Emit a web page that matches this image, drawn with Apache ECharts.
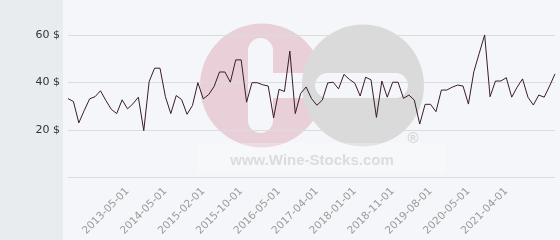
<!DOCTYPE html>
<html>
<head>
<meta charset="utf-8">
<script src="https://cdn.jsdelivr.net/npm/echarts@6/dist/echarts.min.js"></script>
<style>
html,body{margin:0;padding:0;background:#f5f6f9;}
#chart{width:560px;height:240px;}
</style>
</head>
<body>
<div id="chart"></div>
<script>
const dates = [
"2012-05-01","2012-06-01","2012-07-01","2012-08-01","2012-10-01","2012-11-01","2012-12-01","2013-01-01","2013-02-01","2013-03-01",
"2013-04-01","2013-05-01","2013-06-01","2013-08-01","2013-10-01","2013-12-01","2014-02-01","2014-03-01","2014-05-01","2014-06-01",
"2014-07-01","2014-09-01","2014-10-01","2014-11-01","2014-12-01","2015-02-01","2015-03-01","2015-04-01","2015-05-01","2015-06-01",
"2015-07-01","2015-09-01","2015-10-01","2015-11-01","2015-12-01","2016-01-01","2016-02-01","2016-03-01","2016-04-01","2016-05-01",
"2016-06-01","2016-08-01","2016-10-01","2016-12-01","2017-01-01","2017-03-01","2017-04-01","2017-05-01","2017-06-01","2017-07-01",
"2017-09-01","2017-11-01","2017-12-01","2018-01-01","2018-02-01","2018-04-01","2018-05-01","2018-07-01","2018-09-01","2018-10-01",
"2018-11-01","2018-12-01","2019-01-01","2019-03-01","2019-04-01","2019-06-01","2019-07-01","2019-08-01","2019-09-01","2019-10-01",
"2019-12-01","2020-01-01","2020-03-01","2020-04-01","2020-05-01","2020-06-01","2020-07-01","2020-09-01","2020-11-01","2021-01-01",
"2021-03-01","2021-04-01","2021-05-01","2021-06-01","2021-07-01","2021-09-01","2021-10-01","2021-11-01","2021-12-01","2022-01-01",
"2022-02-01"
];
const prices = [
33.2,32.0,23.0,28.2,33.1,34.0,36.5,32.4,28.7,26.9,
32.7,28.9,31.0,33.8,19.7,40.4,46.0,46.0,34.0,26.9,
34.5,32.8,26.6,30.3,39.9,33.1,34.9,38.3,44.4,44.4,
40.1,49.5,49.5,31.7,39.9,39.9,39.0,38.5,25.1,37.1,
36.2,53.2,26.9,35.4,38.1,33.2,30.4,32.6,39.8,40.1,
37.3,43.4,41.3,39.7,34.3,42.2,41.1,25.3,40.6,33.8,
40.1,40.1,33.3,34.7,32.6,22.5,30.8,30.8,27.7,36.8,
36.8,38.0,38.9,38.5,30.9,44.5,52.3,60.0,34.0,40.6,
40.6,42.0,33.8,38.0,41.5,33.8,30.5,34.7,33.8,38.5,
43.6
];
const shownLabels = ["2013-05-01","2014-05-01","2015-02-01","2015-10-01","2016-05-01","2017-04-01","2018-01-01","2018-11-01","2019-08-01","2020-05-01","2021-04-01"];
const yTicks = [20, 40, 60];

const chart = echarts.init(document.getElementById('chart'), null, {renderer:'canvas'});
const bg = '#f5f6f9';
chart.setOption({
  animation: false,
  backgroundColor: bg,
  grid: {left: 68, right: 5, top: 0, bottom: 62.5, containLabel: false},
  graphic: [
    {type:'rect', z:-10, shape:{x:0,y:0,width:63,height:240}, style:{fill:'#e9ecef'}, silent:true},
    {type:'circle', z:-5, shape:{cx:262,cy:85.5,r:62}, style:{fill:'#e9cfd7'}, silent:true},
    {type:'rect', z:-5, shape:{x:248,y:38,width:25,height:95,r:12.5}, style:{fill:bg}, silent:true},
    {type:'rect', z:-5, shape:{x:272,y:73,width:35,height:25}, style:{fill:bg}, silent:true},
    {type:'circle', z:-4, shape:{cx:363,cy:85.5,r:61}, style:{fill:'#dadadb'}, silent:true},
    {type:'rect', z:-4, shape:{x:315,y:73,width:93,height:25,r:12.5}, style:{fill:bg}, silent:true},
    {type:'rect', z:-4, shape:{x:197,y:143,width:248,height:30}, style:{fill:'rgba(255,255,255,0.25)'}, silent:true},
    {type:'text', z:-4, x:312, y:161, style:{text:'www.Wine-Stocks.com', font:'bold 15px "Liberation Sans", Arial, sans-serif', fill:'#dcdcdc', align:'center', verticalAlign:'middle'}, silent:true},
    {type:'text', z:-4, x:413, y:139, style:{text:'®', font:'bold 15px "Liberation Sans", Arial, sans-serif', fill:'#d6d6d6', align:'center', verticalAlign:'middle'}, silent:true}
  ],
  xAxis: {
    type: 'category',
    data: dates,
    boundaryGap: false,
    axisLine: {show: false},
    axisTick: {show: false},
    splitLine: {show: false},
    axisLabel: {
      rotate: 45,
      margin: 12,
      color: '#9a9a9a',
      fontSize: 10.5,
      fontFamily: '"DejaVu Sans", sans-serif',
      interval: function(idx, val){ return shownLabels.indexOf(val) >= 0; }
    }
  },
  yAxis: {
    type: 'value',
    min: 0,
    max: 74.7,
    interval: 20,
    axisLine: {show: false},
    axisTick: {show: false},
    splitLine: {show: true, showMaxLine: false, lineStyle: {color: '#dcdcdf', width: 1}},
    axisLabel: {
      margin: 8,
      color: '#333',
      fontSize: 11,
      fontFamily: '"DejaVu Sans", sans-serif',
      showMaxLabel: false,
      formatter: function(v){ return yTicks.indexOf(v) >= 0 ? v + ' $' : ''; }
    }
  },
  series: [{
    type: 'line',
    data: prices,
    showSymbol: false,
    symbol: 'none',
    lineStyle: {color: '#3a1c2a', width: 1},
    z: 5
  }]
});
</script>
</body>
</html>
